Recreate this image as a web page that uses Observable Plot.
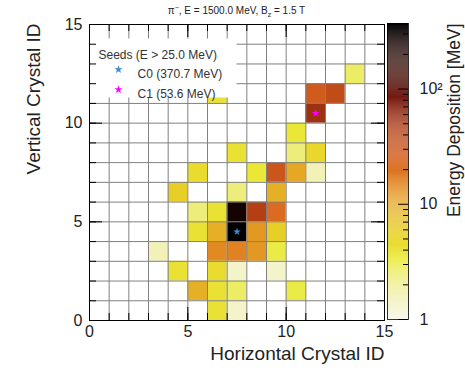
<!DOCTYPE html>
<html><head><meta charset="utf-8">
<script src="https://cdn.jsdelivr.net/npm/d3@7"></script>
<script src="https://cdn.jsdelivr.net/npm/@observablehq/plot@0.6"></script>
<style>
body{margin:0;background:#fff;}
#wrap{position:relative;width:465px;height:371px;background:#fff;font-family:"Liberation Sans",Arial,sans-serif;overflow:hidden;}
#wrap svg{position:absolute;top:0;}
#title{position:absolute;left:89px;width:295px;top:5px;text-align:center;font-size:10px;color:#222;line-height:12px;}
#title sup,#title sub{font-size:7px;line-height:0;}
</style></head><body><div id="wrap"><div id="title">π<sup>−</sup>, E = 1500.0 MeV, B<sub>z</sub> = 1.5 T</div></div>
<script>
// Cells with energy deposition (column, row, MeV)
const cellX = [13, 6, 11, 12, 11, 10, 7, 10, 11, 5, 8, 9, 10, 11, 4, 7, 9, 5, 6, 7, 8, 9, 5, 6, 7, 8, 9, 3, 6, 7, 8, 9, 4, 6, 7, 9, 5, 6, 7, 10, 6, 7];
const cellY = [12, 11, 11, 11, 10, 9, 8, 8, 8, 7, 7, 7, 7, 7, 6, 6, 6, 5, 5, 5, 5, 5, 4, 4, 4, 4, 4, 3, 3, 3, 3, 3, 2, 2, 2, 2, 1, 1, 1, 1, 0, 0];
const cellE = [2.5, 4, 28, 35, 53.6, 3.5, 4, 2.2, 5, 4.5, 3.5, 30, 10, 1.5, 6, 2.2, 9, 2.2, 4, 250, 42, 22, 4, 9, 370.7, 12, 6, 1.5, 14, 16, 12, 3, 4, 4.5, 1.3, 1.3, 9, 4, 2.5, 3, 4, 1.3];

// Seeds
const seedNames = ["C0", "C1"];
const seedX = [7, 11];
const seedY = [4, 10];
const seedE = [370.7, 53.6];
const seedColors = ["#3b8bd6", "#ff00ff"];
const seedThreshold = 25.0;

// Ticks
const xTicks = [0, 5, 10, 15];
const yTicks = [0, 5, 10, 15];
const minorTicks = d3.range(0, 16);
const colorMajor = [1, 10, 100];
const colorLabels = ["1", "10", "10²"];
const colorMinor = [2,3,4,5,6,7,8,9,20,30,40,50,60,70,80,90,200,300];
const colorMax = 370.7;

const xTitle = "Horizontal Crystal ID";
const yTitle = "Vertical Crystal ID";
const cTitle = "Energy Deposition [MeV]";

const cells = cellX.map((x, i) => ({x, y: cellY[i], e: cellE[i]}));
const seeds = seedNames.map((n, i) => ({n, x: seedX[i], y: seedY[i], e: seedE[i], c: seedColors[i]}));

const rampT = [0, 0.06, 0.12, 0.2, 0.3, 0.39, 0.45, 0.54, 0.64, 0.74, 0.84, 0.94, 1];
const rampC = ["#f8f8ec","#f2f2c0","#eeee88","#eaea38","#e8d028","#e4a824","#e28822","#d86420","#b03c12","#7a1a10","#401008","#120202","#000000"];
const ramp = d3.scaleLinear().domain(rampT).range(rampC).interpolate(d3.interpolateRgb).clamp(true);
const colorOpts = {type: "log", domain: [1, colorMax], interpolate: t => ramp(t)};

const W = 465, H = 371, mL = 89, mR = 81, mT = 24, mB = 51;
const fw = W - mL - mR, fh = H - mT - mB;
const minorLen = 7, majorLen = 13;
const font = '"Liberation Sans", Arial, sans-serif';

const main = Plot.plot({
  width: W, height: H,
  marginLeft: mL, marginRight: mR, marginTop: mT, marginBottom: mB,
  x: {domain: [0, 15]},
  y: {domain: [0, 15]},
  color: colorOpts,
  style: {background: "transparent", fontFamily: font, color: "#222"},
  marks: [
    Plot.rect(cells, {x1: "x", x2: d => d.x + 1, y1: "y", y2: d => d.y + 1, fill: "e"}),
    Plot.ruleX(minorTicks, {x: d => d, stroke: "#808080", strokeWidth: 1}),
    Plot.ruleY(minorTicks, {y: d => d, stroke: "#808080", strokeWidth: 1}),
    // legend box
    Plot.frame({fill: "#fff", stroke: null, insetTop: 14, insetRight: 148, insetBottom: 223}),
    Plot.text([`Seeds (E > ${seedThreshold.toFixed(1)} MeV)`], {frameAnchor: "top-left", dx: 9, dy: 26, textAnchor: "start", fontSize: 12, fill: "#333"}),
    Plot.text([`${seedNames[0]} (${seedE[0].toFixed(1)} MeV)`], {frameAnchor: "top-left", dx: 48, dy: 45, textAnchor: "start", fontSize: 12, fill: "#333"}),
    Plot.text([`${seedNames[1]} (${seedE[1].toFixed(1)} MeV)`], {frameAnchor: "top-left", dx: 48, dy: 65, textAnchor: "start", fontSize: 12, fill: "#333"}),
    Plot.dot([seeds[0]], {frameAnchor: "top-left", dx: 29, dy: 45, symbol: "star", r: 2.6, fill: d => d.c, stroke: null}),
    Plot.dot([seeds[1]], {frameAnchor: "top-left", dx: 29, dy: 65, symbol: "star", r: 2.6, fill: d => d.c, stroke: null}),
    // seed markers
    Plot.dot(seeds, {x: d => d.x + 0.5, y: d => d.y + 0.5, symbol: "star", r: 2.4, fill: d => d.c, stroke: null}),
    // ticks (inward)
    Plot.tickX(minorTicks, {x: d => d, insetTop: fh - minorLen, stroke: "#000"}),
    Plot.tickX(xTicks, {x: d => d, insetTop: fh - majorLen, stroke: "#000"}),
    Plot.tickX(minorTicks, {x: d => d, insetBottom: fh - minorLen, stroke: "#000"}),
    Plot.tickX(xTicks, {x: d => d, insetBottom: fh - majorLen, stroke: "#000"}),
    Plot.tickY(minorTicks, {y: d => d, insetRight: fw - minorLen, stroke: "#000"}),
    Plot.tickY(yTicks, {y: d => d, insetRight: fw - majorLen, stroke: "#000"}),
    Plot.tickY(minorTicks, {y: d => d, insetLeft: fw - minorLen, stroke: "#000"}),
    Plot.tickY(yTicks, {y: d => d, insetLeft: fw - majorLen, stroke: "#000"}),
    Plot.frame({stroke: "#000", strokeWidth: 1}),
    Plot.axisX(xTicks, {anchor: "bottom", tickSize: 0, tickPadding: 5, fontSize: 16, label: null}),
    Plot.axisY(yTicks, {anchor: "left", tickSize: 0, tickPadding: 7, fontSize: 16, label: null}),
    Plot.text([xTitle], {frameAnchor: "bottom-right", textAnchor: "end", dy: 39, fontSize: 19, fill: "#222"}),
    Plot.text([yTitle], {frameAnchor: "top-left", rotate: -90, textAnchor: "end", dx: -63, dy: -1, fontSize: 19, fill: "#222"})
  ]
});

const cbEdges = d3.range(0, 301).map(i => Math.pow(10, i / 300 * Math.log10(colorMax)));
const bands = d3.pairs(cbEdges).map(([a, b]) => ({a, b, v: Math.sqrt(a * b)}));
const cbW = 79, cbL = 1, cbR = 57;
const cbFw = cbW - cbL - cbR;
const cbar = Plot.plot({
  width: cbW, height: H,
  marginLeft: cbL, marginRight: cbR, marginTop: 23, marginBottom: 52,
  x: {domain: [0, 1], axis: null},
  y: {type: "log", domain: [1, colorMax], axis: null},
  color: colorOpts,
  style: {background: "transparent", fontFamily: font, color: "#222"},
  marks: [
    Plot.rect(bands, {x1: 0, x2: 1, y1: "a", y2: "b", fill: "v"}),
    Plot.tickY(colorMinor, {y: d => d, insetLeft: cbFw - 5, stroke: "#000"}),
    Plot.tickY(colorMajor, {y: d => d, insetLeft: cbFw - 10, stroke: "#000"}),
    Plot.frame({stroke: "#000", strokeWidth: 0.8}),
    Plot.text(colorMajor, {y: d => d, text: (d, i) => colorLabels[i], frameAnchor: "right", textAnchor: "start", dx: 11, fontSize: 16, fill: "#222"}),
    Plot.text([cTitle], {frameAnchor: "top-right", rotate: -90, textAnchor: "end", dx: 39, dy: 0, fontSize: 17.5, fill: "#222"})
  ]
});
cbar.style.left = "386px";
main.style.left = "0px";
const wrap = document.getElementById("wrap");
wrap.appendChild(cbar);
wrap.appendChild(main);
</script>
</body></html>
